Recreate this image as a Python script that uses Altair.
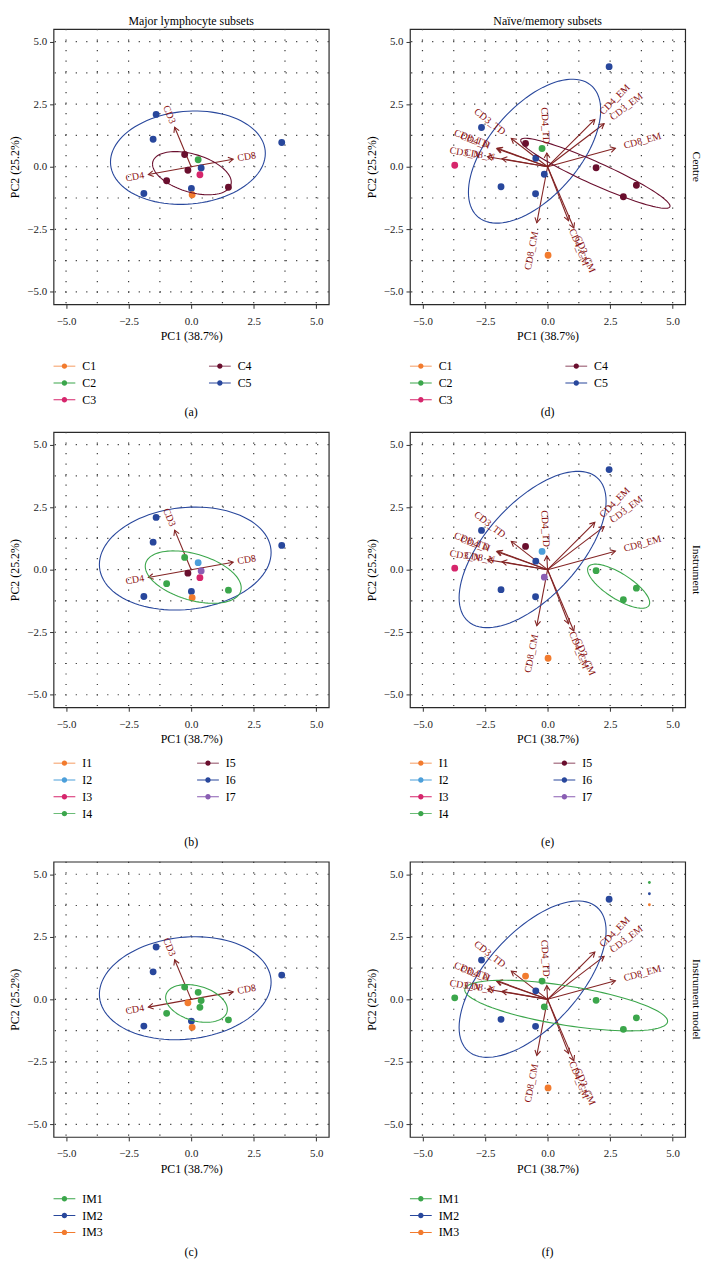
import altair as alt
import pandas as pd
import numpy as np

FONT = "Liberation Serif"
W = H = 278
ARROW = "#832424"
LABELC = "#8B1010"

# ---- samples (13) ----
centre = ["C5", "C5", "C5", "C5", "C5", "C5", "C4", "C4", "C4", "C4", "C2", "C3", "C1"]
instrument = ["I6", "I6", "I6", "I6", "I6", "I7", "I4", "I5", "I4", "I4", "I2", "I3", "I1"]
inst_model = ["IM2", "IM2", "IM2", "IM2", "IM2", "IM1", "IM1", "IM3", "IM1", "IM1", "IM1", "IM1", "IM3"]

major_pc1 = [-1.40, -1.52, 3.62, -1.89, 0.01, 0.40, -0.26, -0.13, -0.98, 1.49, 0.28, 0.35, 0.04]
major_pc2 = [2.09, 1.10, 0.97, -1.07, -0.87, -0.05, 0.49, -0.14, -0.56, -0.82, 0.28, -0.32, -1.12]

nm_pc1 = [-2.64, -1.86, 2.46, -0.48, -0.47, -0.13, 1.94, -0.88, 3.03, 3.55, -0.22, -3.71, 0.02]
nm_pc2 = [1.57, -0.80, 4.00, -1.08, 0.34, -0.30, -0.04, 0.93, -1.20, -0.74, 0.73, 0.06, -3.54]

# legend order and colours
centre_order = ["C1", "C2", "C3", "C4", "C5"]
centre_colors = ["#F27B2E", "#3BA64B", "#D6266C", "#6A0F2E", "#28479C"]
instr_order = ["I1", "I2", "I3", "I4", "I5", "I6", "I7"]
instr_colors = ["#F27B2E", "#4C9FDA", "#D6266C", "#3BA64B", "#6A0F2E", "#28479C", "#8A5EB3"]
model_order = ["IM1", "IM2", "IM3"]
model_colors = ["#3BA64B", "#28479C", "#F27B2E"]

grid_vals = [-5, -3.75, -2.5, -1.25, 0, 1.25, 2.5, 3.75, 5]
tick_vals = [-5, -2.5, 0, 2.5, 5]

# ---- variable loadings (arrows) ----
major_vars = ["CD3", "CD4", "CD8"]
major_vx = [-0.66, -1.71, 1.68]
major_vy = [1.58, -0.31, 0.30]

nm_vars = ["CD4_EM", "CD3_EM", "CD8_EM", "CD3_TD", "CD4_TD", "CD8_TD",
           "CD4_N", "CD3_N", "CD8_N", "CD8_CM", "CD4_CM", "CD3_CM"]
nm_vx = [1.89, 2.26, 2.71, -1.45, -0.03, -2.00, -2.03, -2.40, -1.82, -0.43, 0.84, 1.05]
nm_vy = [1.89, 1.72, 0.74, 1.13, 0.55, 0.74, 0.72, 0.40, 0.32, -2.24, -2.16, -2.45]

# stray key dots in panel (f)
extra_grp = ["IM1", "IM2", "IM3"]
extra_pc1 = [4.07, 4.07, 4.07]
extra_pc2 = [4.67, 4.22, 3.78]

ED = np.sqrt(-2 * np.log(1 - 0.68))  # sqrt(qchisq(0.68, 2))


def ellipse_df(x, y, g):
    rows = []
    t = np.linspace(-np.pi, np.pi, 101)
    circ = np.column_stack([np.cos(t), np.sin(t)])
    for grp in dict.fromkeys(g):
        idx = [i for i, v in enumerate(g) if v == grp]
        if len(idx) <= 2:
            continue
        pts = np.column_stack([[x[i] for i in idx], [y[i] for i in idx]])
        sigma = np.cov(pts.T)
        R = np.linalg.cholesky(sigma).T
        e = circ @ R * ED + pts.mean(axis=0)
        for k, (ex, ey) in enumerate(e):
            rows.append(dict(grp=grp, k=k, ex=float(ex), ey=float(ey)))
    return pd.DataFrame(rows)


SYM = ("M-1,-0.045L1,-0.045L1,0.045L-1,0.045Z"
       "M-0.25,0A0.25,0.25,0,1,1,0.25,0A0.25,0.25,0,1,1,-0.25,0Z")
HEAD = "M-1,-0.577L0,0L-1,0.577"


def text_layer(txt, x, y, size=12, angle=None):
    kw = dict(font=FONT, fontSize=size, color="black", baseline="middle", align="center")
    if angle is not None:
        kw["angle"] = angle
    return alt.Chart(pd.DataFrame({"t": [txt]})).mark_text(**kw).encode(
        text="t:N", x=alt.value(x), y=alt.value(y))


def panel(px, py, groups, order, colors, vars_, vx, vy, leg_y, ncol, colpad,
          caption, cap_y, title=None, strip=None, extra=None):
    xs = alt.Scale(domain=[-5.5, 5.5], nice=False, zero=False)
    ys = alt.Scale(domain=[-5.5, 5.5], nice=False, zero=False)
    xax = alt.Axis(values=tick_vals, format=".1f", title="PC1 (38.7%)", grid=False,
                   domain=False, labelPadding=7, titlePadding=5)
    yax = alt.Axis(values=tick_vals, format=".1f", title="PC2 (25.2%)", grid=False,
                   domain=False, labelPadding=3, titlePadding=5)

    def X(f):
        return alt.X(f, scale=xs, axis=xax)

    def Y(f):
        return alt.Y(f, scale=ys, axis=yax)

    cscale = alt.Scale(domain=order, range=colors)
    legend = alt.Legend(title=None, orient="none", legendX=0, legendY=H + leg_y,
                        direction="vertical", columns=ncol, columnPadding=colpad,
                        rowPadding=0, symbolType=SYM, symbolSize=484,
                        symbolStrokeWidth=0, symbolOpacity=1, labelFont=FONT,
                        labelFontSize=12, labelColor="black", labelOffset=7,
                        padding=0, labelLimit=200)

    gdf = pd.DataFrame({"g": grid_vals})
    gv = alt.Chart(gdf).mark_rule(color="#3a3a3a", strokeWidth=1.2,
                                  strokeDash=[1.2, 9.4]).encode(x=X("g:Q"))
    gh = alt.Chart(gdf).mark_rule(color="#3a3a3a", strokeWidth=1.2,
                                  strokeDash=[1.2, 9.4]).encode(y=Y("g:Q"))

    adf = pd.DataFrame({"var": vars_, "vx": vx, "vy": vy})
    shafts = alt.Chart(adf).transform_calculate(x0="0", y0="0").mark_rule(
        color=ARROW, strokeWidth=1.1).encode(
        x=X("x0:Q"), y=Y("y0:Q"), x2="vx:Q", y2="vy:Q")
    heads = alt.Chart(adf).transform_calculate(
        ha="(atan2(-datum.vy, datum.vx) * 180 / PI + 360) % 360").mark_point(
        shape=HEAD, filled=False, size=100, color=ARROW, strokeWidth=1.1,
        opacity=1).encode(x=X("vx:Q"), y=Y("vy:Q"),
                          angle=alt.Angle("ha:Q", scale=None))

    lab_base = alt.Chart(adf).transform_calculate(
        ta="(-atan(datum.vy / datum.vx) * 180 / PI + 360) % 360",
        r="sqrt(datum.vx * datum.vx + datum.vy * datum.vy)",
        gap="0.25 * length(datum.var) * 6 / 25.27",
        lx="datum.vx + datum.vx / datum.r * datum.gap",
        ly="datum.vy + datum.vy / datum.r * datum.gap")
    lab_l = lab_base.transform_filter("datum.vx < 0").mark_text(
        align="right", baseline="middle", font=FONT, fontSize=10,
        color=LABELC).encode(x=X("lx:Q"), y=Y("ly:Q"), text="var:N",
                             angle=alt.Angle("ta:Q", scale=None))
    lab_r = lab_base.transform_filter("datum.vx >= 0").mark_text(
        align="left", baseline="middle", font=FONT, fontSize=10,
        color=LABELC).encode(x=X("lx:Q"), y=Y("ly:Q"), text="var:N",
                             angle=alt.Angle("ta:Q", scale=None))

    pdf = pd.DataFrame({"pc1": px, "pc2": py, "grp": groups})
    pts = alt.Chart(pdf).mark_circle(size=48, opacity=1).encode(
        x=X("pc1:Q"), y=Y("pc2:Q"),
        color=alt.Color("grp:N", scale=cscale, legend=legend))

    edf = ellipse_df(px, py, groups)
    ell = alt.Chart(edf).mark_line(strokeWidth=1.1).encode(
        x=X("ex:Q"), y=Y("ey:Q"),
        color=alt.Color("grp:N", scale=cscale, legend=None),
        detail="grp:N", order="k:Q")

    layers = [gv, gh, shafts, heads, pts, ell, lab_l, lab_r,
              text_layer(caption, W / 2, H + cap_y)]
    if extra is not None:
        edf2 = pd.DataFrame({"pc1": extra[1], "pc2": extra[2], "grp": extra[0]})
        layers.append(alt.Chart(edf2).mark_circle(size=8, opacity=1).encode(
            x=X("pc1:Q"), y=Y("pc2:Q"),
            color=alt.Color("grp:N", scale=cscale, legend=None)))
    if strip is not None:
        layers.append(text_layer(strip, W + 11, H / 2, size=11.5, angle=90))
    if title is not None:
        layers.append(text_layer(title, W / 2, -8, size=12))
    return alt.layer(*layers).properties(width=W, height=H)


a = panel(major_pc1, major_pc2, centre, centre_order, centre_colors,
          major_vars, major_vx, major_vy, 51.4, 2, 113, "(a)", 109,
          title="Major lymphocyte subsets")
d = panel(nm_pc1, nm_pc2, centre, centre_order, centre_colors,
          nm_vars, nm_vx, nm_vy, 51.4, 2, 113, "(d)", 109,
          title="Naïve/memory subsets", strip="Centre")
b = panel(major_pc1, major_pc2, instrument, instr_order, instr_colors,
          major_vars, major_vx, major_vy, 45.4, 2, 106, "(b)", 136)
e = panel(nm_pc1, nm_pc2, instrument, instr_order, instr_colors,
          nm_vars, nm_vx, nm_vy, 45.4, 2, 106, "(e)", 136, strip="Instrument")
c = panel(major_pc1, major_pc2, inst_model, model_order, model_colors,
          major_vars, major_vx, major_vy, 51.4, 1, 0, "(c)", 116)
f = panel(nm_pc1, nm_pc2, inst_model, model_order, model_colors,
          nm_vars, nm_vx, nm_vy, 51.4, 1, 0, "(f)", 116, strip="Instrument model",
          extra=(extra_grp, extra_pc1, extra_pc2))

row1 = alt.hconcat(a, d, spacing=34).resolve_scale(color="independent")
row2 = alt.hconcat(b, e, spacing=34).resolve_scale(color="independent")
row3 = alt.hconcat(c, f, spacing=34).resolve_scale(color="independent")

chart = alt.vconcat(row1, row2, row3, spacing=11).resolve_scale(
    color="independent").properties(
    padding={"left": 0, "top": 0, "right": 0, "bottom": 0}
).configure_view(stroke="#2a2a2a", strokeWidth=1.2).configure_axis(
    labelFont=FONT, titleFont=FONT, labelFontSize=11, titleFontSize=12,
    titleFontWeight="normal", labelColor="#1a1a1a", titleColor="black",
    tickColor="#333333", tickSize=4, tickWidth=1)

chart.save("out.html", embed_options={"renderer": "svg", "actions": False})
